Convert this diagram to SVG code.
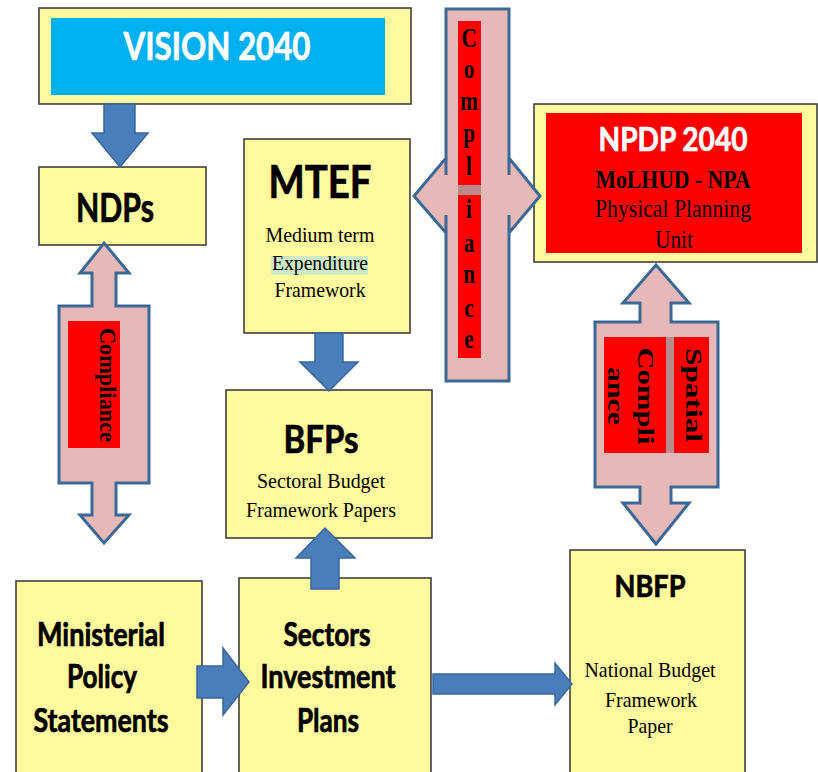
<svg xmlns="http://www.w3.org/2000/svg" width="818" height="772" viewBox="0 0 818 772">
  <style>
    .box { fill: #FFFA9E; stroke: #404040; stroke-width: 1.6; }
    .flow { fill: #4A7EBB; stroke: #3A679B; stroke-width: 1.5; stroke-linejoin: miter; }
    .link { fill: #E6B9B8; stroke: #3C6896; stroke-width: 3; }
    .tag { fill: #FF0000; }
    .band { fill: #B98A89; }
    .head { font-family: Lato, "Open Sans", "Liberation Sans", sans-serif; font-weight: bold; text-anchor: middle; fill: #000; stroke: #000; stroke-width: 0.7; }
    .head.light { fill: #FFFFFF; stroke: #FFFFFF; }
    .serif { font-family: "Liberation Serif", "Times New Roman", serif; text-anchor: middle; fill: #000; }
    .bold { font-weight: bold; }
  </style>

  <rect width="818" height="772" fill="#FFFFFF"/>

  <!-- Nodes -->
  <g id="vision">
    <rect class="box" x="39" y="8" width="372" height="96"/>
    <rect x="51" y="18" width="334" height="77" fill="#00B0F0"/>
    <text class="head light" x="217" y="60" font-size="39" textLength="187" lengthAdjust="spacingAndGlyphs">VISION 2040</text>
  </g>

  <g id="ndps">
    <rect class="box" x="39" y="167" width="167" height="78"/>
    <text class="head" x="115" y="222" font-size="40" textLength="78" lengthAdjust="spacingAndGlyphs">NDPs</text>
  </g>

  <g id="mtef">
    <rect class="box" x="244" y="139" width="166" height="194"/>
    <text class="head" x="320" y="198" font-size="46" stroke-width="1.2" textLength="103" lengthAdjust="spacingAndGlyphs">MTEF</text>
    <text class="serif" x="320" y="242" font-size="21" textLength="109" lengthAdjust="spacingAndGlyphs">Medium term</text>
    <rect x="271" y="256" width="97" height="19" fill="#CDEBC4"/>
    <text class="serif" x="320" y="270" font-size="21" textLength="96" lengthAdjust="spacingAndGlyphs">Expenditure</text>
    <text class="serif" x="320" y="297" font-size="21" textLength="91" lengthAdjust="spacingAndGlyphs">Framework</text>
  </g>

  <g id="npdp">
    <rect class="box" x="534" y="104" width="283" height="158"/>
    <rect class="tag" x="546" y="113" width="256" height="140"/>
    <text class="head light" x="673" y="151" font-size="32" textLength="149" lengthAdjust="spacingAndGlyphs">NPDP 2040</text>
    <text class="serif bold" x="673" y="188" font-size="26" textLength="155" lengthAdjust="spacingAndGlyphs">MoLHUD - NPA</text>
    <text class="serif" x="673" y="217" font-size="26" textLength="156" lengthAdjust="spacingAndGlyphs">Physical Planning</text>
    <text class="serif" x="674" y="248" font-size="26" textLength="38" lengthAdjust="spacingAndGlyphs">Unit</text>
  </g>

  <g id="bfps">
    <rect class="box" x="226" y="390" width="206" height="148"/>
    <text class="head" x="321" y="453" font-size="39" textLength="75" lengthAdjust="spacingAndGlyphs">BFPs</text>
    <text class="serif" x="321" y="488" font-size="21" textLength="128" lengthAdjust="spacingAndGlyphs">Sectoral Budget</text>
    <text class="serif" x="321" y="517" font-size="21" textLength="150" lengthAdjust="spacingAndGlyphs">Framework Papers</text>
  </g>

  <g id="ministerial">
    <rect class="box" x="16" y="581" width="186" height="200"/>
    <text class="head" x="101" y="646" font-size="32" textLength="128" lengthAdjust="spacingAndGlyphs">Ministerial</text>
    <text class="head" x="102" y="688" font-size="32" textLength="70" lengthAdjust="spacingAndGlyphs">Policy</text>
    <text class="head" x="101" y="732" font-size="32" textLength="135" lengthAdjust="spacingAndGlyphs">Statements</text>
  </g>

  <g id="sectors">
    <rect class="box" x="239" y="578" width="192" height="203"/>
    <text class="head" x="327" y="646" font-size="32" textLength="87" lengthAdjust="spacingAndGlyphs">Sectors</text>
    <text class="head" x="328" y="688" font-size="32" textLength="135" lengthAdjust="spacingAndGlyphs">Investment</text>
    <text class="head" x="328" y="732" font-size="32" textLength="62" lengthAdjust="spacingAndGlyphs">Plans</text>
  </g>

  <g id="nbfp">
    <rect class="box" x="570" y="550" width="175" height="231"/>
    <text class="head" x="650" y="597" font-size="31" textLength="71" lengthAdjust="spacingAndGlyphs">NBFP</text>
    <text class="serif" x="650" y="677" font-size="21" textLength="131" lengthAdjust="spacingAndGlyphs">National Budget</text>
    <text class="serif" x="651" y="707" font-size="21" textLength="92" lengthAdjust="spacingAndGlyphs">Framework</text>
    <text class="serif" x="650" y="733" font-size="21" textLength="45" lengthAdjust="spacingAndGlyphs">Paper</text>
  </g>

  <!-- Connectors -->
  <g id="connectors">
    <!-- block arrows -->
    <polygon class="flow" points="104,104 135,104 135,133 148,133 120,167 92,133 104,133"/>
    <polygon class="flow" points="315,333 343,333 343,362 358,362 329,391 300,362 315,362"/>
    <polygon class="flow" points="311,589 339,589 339,558 355,558 325,528 296,558 311,558"/>
    <polygon class="flow" points="197,666 223,666 223,648 249,682 223,715 223,698 197,698"/>
    <polygon class="flow" points="433,674 555,674 555,663 572,684 555,705 555,694 433,694"/>

    <!-- NDPs <-> Ministerial compliance -->
    <g id="compliance-left">
      <polygon class="link" points="104,243 129,273 116,273 116,306 149,306 149,483 116,483 116,515 129,515 104,543 80,515 92,515 92,483 59,483 59,306 92,306 92,273 80,273"/>
      <rect class="tag" x="68" y="321" width="52" height="127"/>
      <text class="serif bold" font-size="24" transform="translate(100,385) rotate(90)" textLength="114" lengthAdjust="spacingAndGlyphs">Compliance</text>
    </g>

    <!-- MTEF <-> NPDP compliance -->
    <g id="compliance-top">
      <path class="link" d="M446,9 L509,9 L509,175 L509,158 L540,196 L509,233 L509,215 L509,381 L446,381 L446,215 L446,233 L414,196 L446,158 L446,175 Z"/>
      <rect class="tag" x="458" y="21" width="23" height="337"/>
      <rect class="band" x="458" y="185" width="23" height="10"/>
      <g class="serif bold" font-size="27" transform="translate(469,0) scale(0.78,1)">
        <text x="0" y="47">C</text>
        <text x="0" y="78">o</text>
        <text x="0" y="110">m</text>
        <text x="0" y="142">p</text>
        <text x="0" y="175">l</text>
        <text x="0" y="218">i</text>
        <text x="0" y="252">a</text>
        <text x="0" y="283">n</text>
        <text x="0" y="317">c</text>
        <text x="0" y="348">e</text>
      </g>
    </g>

    <!-- NPDP <-> NBFP spatial compliance -->
    <g id="compliance-spatial">
      <polygon class="link" points="656,265 689,303 671,303 671,322 718,322 718,487 671,487 671,503 689,503 656,544 623,503 640,503 640,487 595,487 595,322 640,322 640,303 623,303"/>
      <rect class="tag" x="604" y="337" width="105" height="116"/>
      <rect class="band" x="666" y="337" width="8" height="116"/>
      <text class="serif bold" font-size="24" transform="translate(686,395) rotate(90)" textLength="94" lengthAdjust="spacingAndGlyphs">Spatial</text>
      <text class="serif bold" font-size="24" transform="translate(638,396) rotate(90)" textLength="97" lengthAdjust="spacingAndGlyphs">Compli</text>
      <text class="serif bold" font-size="24" transform="translate(608,396) rotate(90)" textLength="58" lengthAdjust="spacingAndGlyphs">ance</text>
    </g>
  </g>
</svg>
